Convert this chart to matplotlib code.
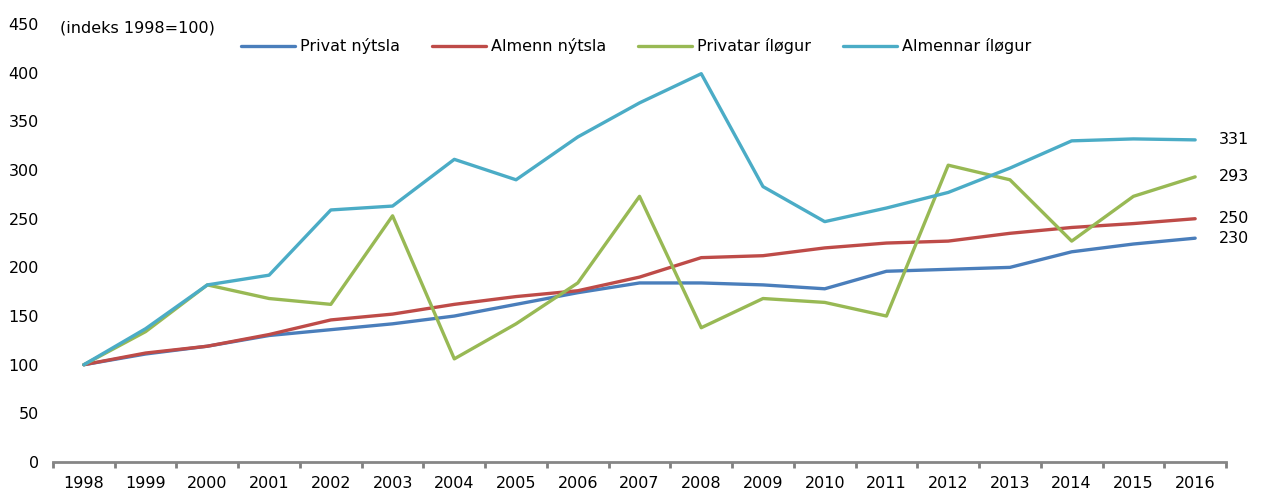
import numpy as np
import matplotlib
matplotlib.use('Agg')
import matplotlib.pyplot as plt
from matplotlib.ticker import FixedLocator, NullFormatter, FixedFormatter

# Data (index 1998=100)
years = list(range(1998, 2017))
privat_nytsla = [100, 111, 119, 130, 136, 142, 150, 162, 174, 184, 184, 182, 178, 196, 198, 200, 216, 224, 230]
almenn_nytsla = [100, 112, 119, 131, 146, 152, 162, 170, 176, 190, 210, 212, 220, 225, 227, 235, 241, 245, 250]
privatar_ilogur = [100, 134, 182, 168, 162, 253, 106, 142, 184, 273, 138, 168, 164, 150, 305, 290, 227, 273, 293]
almennar_ilogur = [100, 137, 182, 192, 259, 263, 311, 290, 334, 369, 399, 283, 247, 261, 277, 302, 330, 332, 331]

series = [
    ('Privat nýtsla', privat_nytsla, '#4A7EBB'),
    ('Almenn nýtsla', almenn_nytsla, '#BE4B48'),
    ('Privatar íløgur', privatar_ilogur, '#98B954'),
    ('Almennar íløgur', almennar_ilogur, '#4BACC6'),
]

plt.rcParams.update({
    'font.family': 'DejaVu Sans',
    'font.size': 11,
})

fig = plt.figure(figsize=(12.62, 4.91), dpi=100)
ax = fig.add_axes([0.042, 0.059, 0.9295, 0.892])

x = np.arange(len(years))
for name, vals, col in series:
    ax.plot(x, vals, color=col, lw=2.4, label=name, solid_capstyle='round')
    ax.annotate(str(vals[-1]), xy=(x[-1], vals[-1]), xytext=(17, 0),
                textcoords='offset points', va='center', ha='left', fontsize=11.5)

ax.set_xlim(-0.5, len(years) - 0.5)
ax.set_ylim(0, 450)
ax.set_yticks(range(0, 451, 50))
ax.tick_params(axis='y', length=0, pad=10, labelsize=11.5)

ax.xaxis.set_major_locator(FixedLocator(np.arange(-0.5, len(years), 1)))
ax.xaxis.set_major_formatter(NullFormatter())
ax.xaxis.set_minor_locator(FixedLocator(x))
ax.xaxis.set_minor_formatter(FixedFormatter([str(y) for y in years]))
ax.tick_params(axis='x', which='major', length=4, width=2, color='#808080', direction='out')
ax.tick_params(axis='x', which='minor', length=0, pad=10, labelsize=11.5)

for s in ['top', 'right', 'left']:
    ax.spines[s].set_visible(False)
ax.spines['bottom'].set_color('#868686')
ax.spines['bottom'].set_linewidth(2.0)

ax.text(0.006, 0.99, '(indeks 1998=100)', transform=ax.transAxes, ha='left', va='center', fontsize=11.5)

fig.legend(loc='center', bbox_to_anchor=(0.504, 0.906), ncol=4, frameon=False,
           handlelength=3.4, columnspacing=2.0, handletextpad=0.3, fontsize=11.5)

fig.savefig('out.png', dpi=100)
